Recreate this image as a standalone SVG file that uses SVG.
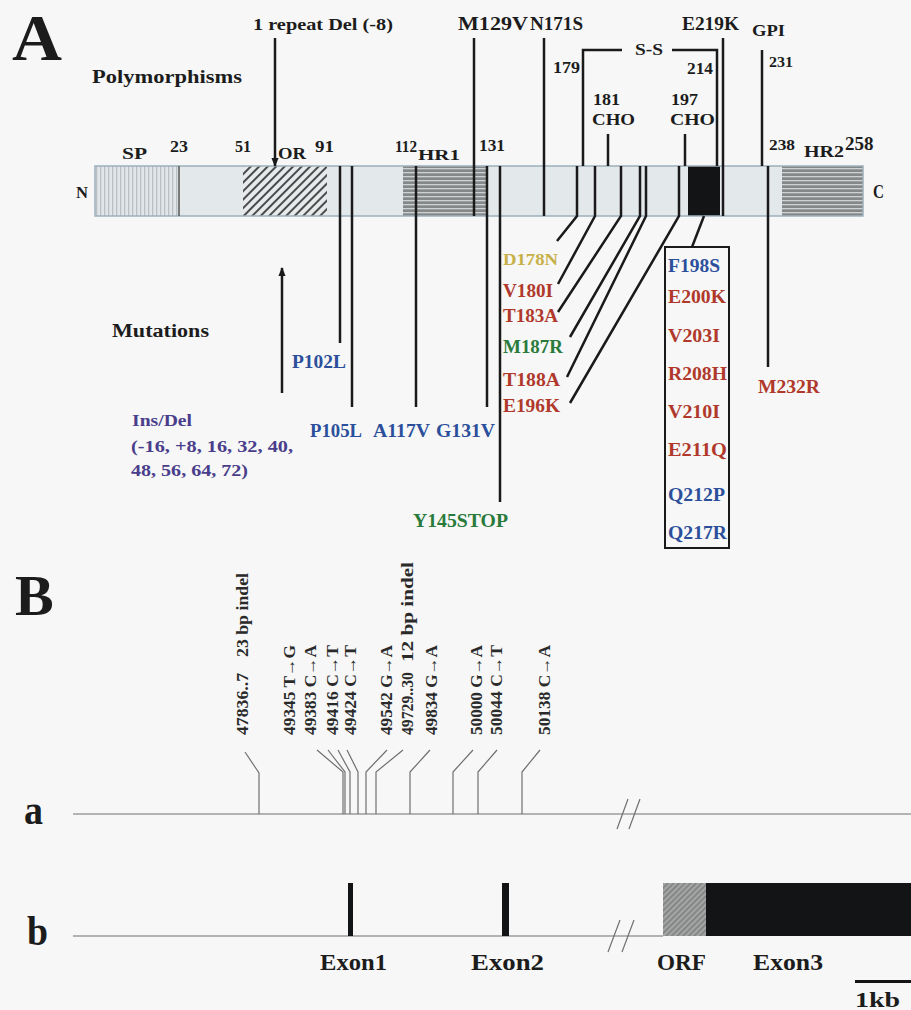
<svg xmlns="http://www.w3.org/2000/svg" width="911" height="1010" viewBox="0 0 911 1010">
<style>
.t{font-family:"Liberation Serif","Times New Roman",serif;font-weight:bold}
.k{fill:#1c1c1c}
.blue{fill:#2c4f9c}
.red{fill:#b0392c}
.green{fill:#2a7a3c}
.yel{fill:#c8b048}
.pur{fill:#4a3e8c}
.rot{fill:#2a2a2a;font-size:16px}
.ln{stroke:#1a1a1a;stroke-width:2.5;fill:none}
.thin{stroke:#707070;stroke-width:1.2;fill:none}
.seg{stroke:none}
</style>
<defs>
<pattern id="vstripe" width="4" height="4" patternUnits="userSpaceOnUse">
<rect width="4" height="4" fill="#e2e6e9"/>
<rect width="1.3" height="4" fill="#b9c0c6"/>
</pattern>
<pattern id="hatch" width="6" height="6" patternUnits="userSpaceOnUse" patternTransform="rotate(45)">
<rect width="6" height="6" fill="#e6eaec"/>
<rect width="2" height="6" fill="#4a4a4a"/>
</pattern>
<pattern id="hstripe" width="4" height="4" patternUnits="userSpaceOnUse">
<rect width="4" height="4" fill="#858888"/>
<rect width="4" height="1.3" fill="#cfd2d4"/>
</pattern>
<pattern id="orf" width="4" height="4" patternUnits="userSpaceOnUse" patternTransform="rotate(45)">
<rect width="4" height="4" fill="#a4a6a5"/>
<rect width="1.5" height="4" fill="#7c7e7d"/>
</pattern>
<marker id="arr" viewBox="0 0 10 10" refX="9" refY="5" markerWidth="9" markerHeight="10" markerUnits="userSpaceOnUse" orient="auto">
<path d="M0,1 L10,5 L0,9 Z" fill="#1a1a1a"/>
</marker>
</defs>
<rect width="911" height="1010" fill="#f6f7f6"/>

<g id="panel-labels" class="t k">
<text x="12" y="60" font-size="66" textLength="50" lengthAdjust="spacingAndGlyphs">A</text>
<text x="15" y="615" font-size="58">B</text>
<text x="24" y="824" font-size="42" textLength="19" lengthAdjust="spacingAndGlyphs">a</text>
<text x="27" y="945" font-size="42" textLength="21" lengthAdjust="spacingAndGlyphs">b</text>
</g>

<g id="prion-bar">
<rect class="seg" x="95" y="166" width="84" height="50" fill="url(#vstripe)"/>
<rect class="seg" x="179" y="166" width="64" height="50" fill="#e3e8eb"/>
<rect class="seg" x="243" y="166" width="84" height="50" fill="url(#hatch)"/>
<rect class="seg" x="327" y="166" width="76" height="50" fill="#e3e8eb"/>
<rect class="seg" x="403" y="166" width="83" height="50" fill="url(#hstripe)"/>
<rect class="seg" x="486" y="166" width="202" height="50" fill="#e3e8eb"/>
<rect class="seg" x="688" y="166" width="32" height="50" fill="#121416"/>
<rect class="seg" x="720" y="166" width="62" height="50" fill="#e3e8eb"/>
<rect class="seg" x="782" y="166" width="81" height="50" fill="url(#hstripe)"/>
<rect x="95" y="166" width="768" height="50" fill="none" stroke="#9db0bd" stroke-width="1.5"/>
<line x1="179" y1="166" x2="179" y2="216" stroke="#555" stroke-width="1.5"/>
</g>

<g id="bar-labels" class="t k">
<text x="76" y="198" font-size="17" textLength="12" lengthAdjust="spacingAndGlyphs">N</text>
<text x="873" y="198" font-size="18" textLength="11" lengthAdjust="spacingAndGlyphs">C</text>
<text x="122" y="159" font-size="17" textLength="25" lengthAdjust="spacingAndGlyphs">SP</text>
<text x="170" y="152" font-size="16" textLength="18" lengthAdjust="spacingAndGlyphs">23</text>
<text x="235" y="152" font-size="16" textLength="16" lengthAdjust="spacingAndGlyphs">51</text>
<text x="278" y="159" font-size="17" textLength="28" lengthAdjust="spacingAndGlyphs">OR</text>
<text x="315" y="152" font-size="16" textLength="19" lengthAdjust="spacingAndGlyphs">91</text>
<text x="395" y="152" font-size="16" textLength="22" lengthAdjust="spacingAndGlyphs">112</text>
<text x="418" y="160" font-size="15" textLength="42" lengthAdjust="spacingAndGlyphs">HR1</text>
<text x="479" y="151" font-size="16" textLength="26" lengthAdjust="spacingAndGlyphs">131</text>
<text x="769" y="150" font-size="15" textLength="26" lengthAdjust="spacingAndGlyphs">238</text>
<text x="804" y="157" font-size="16" textLength="40" lengthAdjust="spacingAndGlyphs">HR2</text>
<text x="845" y="150" font-size="19">258</text>
</g>

<g id="polymorphism-labels" class="t k">
<text x="92" y="83" font-size="19" textLength="150" lengthAdjust="spacingAndGlyphs">Polymorphisms</text>
<text x="253" y="30" font-size="16" textLength="140" lengthAdjust="spacingAndGlyphs">1 repeat Del (-8)</text>
<text x="458" y="30" font-size="18" textLength="70" lengthAdjust="spacingAndGlyphs">M129V</text>
<text x="530" y="30" font-size="18" textLength="53" lengthAdjust="spacingAndGlyphs">N171S</text>
<text x="682" y="30" font-size="18" textLength="57" lengthAdjust="spacingAndGlyphs">E219K</text>
<text x="752" y="36" font-size="17" textLength="33" lengthAdjust="spacingAndGlyphs">GPI</text>
<text x="635" y="55" font-size="16" textLength="28" lengthAdjust="spacingAndGlyphs">S-S</text>
<text x="553" y="73" font-size="17" textLength="27" lengthAdjust="spacingAndGlyphs">179</text>
<text x="687" y="74" font-size="17" textLength="26" lengthAdjust="spacingAndGlyphs">214</text>
<text x="769" y="67" font-size="15" textLength="24" lengthAdjust="spacingAndGlyphs">231</text>
<text x="593" y="105" font-size="16" textLength="27" lengthAdjust="spacingAndGlyphs">181</text>
<text x="592" y="125" font-size="17" textLength="43" lengthAdjust="spacingAndGlyphs">CHO</text>
<text x="671" y="105" font-size="16" textLength="27" lengthAdjust="spacingAndGlyphs">197</text>
<text x="670" y="125" font-size="17" textLength="45" lengthAdjust="spacingAndGlyphs">CHO</text>
</g>

<g id="mutation-labels" class="t">
<text class="k" x="112" y="337" font-size="18" textLength="97" lengthAdjust="spacingAndGlyphs">Mutations</text>
<text class="blue" x="292" y="368" font-size="18" textLength="54" lengthAdjust="spacingAndGlyphs">P102L</text>
<text class="blue" x="310" y="437" font-size="18" textLength="52" lengthAdjust="spacingAndGlyphs">P105L</text>
<text class="blue" x="373" y="437" font-size="18" textLength="57" lengthAdjust="spacingAndGlyphs">A117V</text>
<text class="blue" x="436" y="437" font-size="18" textLength="59" lengthAdjust="spacingAndGlyphs">G131V</text>
<text class="pur" x="132" y="426" font-size="16" textLength="60" lengthAdjust="spacingAndGlyphs">Ins/Del</text>
<text class="pur" x="131" y="452" font-size="16" textLength="162" lengthAdjust="spacingAndGlyphs">(-16, +8, 16, 32, 40,</text>
<text class="pur" x="131" y="476" font-size="16" textLength="117" lengthAdjust="spacingAndGlyphs">48, 56, 64, 72)</text>
<text class="green" x="413" y="527" font-size="18" textLength="95" lengthAdjust="spacingAndGlyphs">Y145STOP</text>
<text class="yel" x="503" y="265" font-size="17" textLength="55" lengthAdjust="spacingAndGlyphs">D178N</text>
<text class="red" x="503" y="297" font-size="18" textLength="50" lengthAdjust="spacingAndGlyphs">V180I</text>
<text class="red" x="503" y="322" font-size="18" textLength="55" lengthAdjust="spacingAndGlyphs">T183A</text>
<text class="green" x="503" y="353" font-size="18" textLength="60" lengthAdjust="spacingAndGlyphs">M187R</text>
<text class="red" x="503" y="386" font-size="18" textLength="57" lengthAdjust="spacingAndGlyphs">T188A</text>
<text class="red" x="503" y="412" font-size="18" textLength="57" lengthAdjust="spacingAndGlyphs">E196K</text>
<text class="red" x="758" y="393" font-size="18" textLength="62" lengthAdjust="spacingAndGlyphs">M232R</text>
</g>

<g id="mutation-box" class="t">
<rect x="665" y="247" width="64" height="301" fill="none" stroke="#1a1a1a" stroke-width="2"/>
<text class="blue" x="668" y="272" font-size="18" textLength="52" lengthAdjust="spacingAndGlyphs">F198S</text>
<text class="red" x="668" y="303" font-size="18" textLength="58" lengthAdjust="spacingAndGlyphs">E200K</text>
<text class="red" x="668" y="342" font-size="18" textLength="52" lengthAdjust="spacingAndGlyphs">V203I</text>
<text class="red" x="668" y="380" font-size="18" textLength="59" lengthAdjust="spacingAndGlyphs">R208H</text>
<text class="red" x="668" y="418" font-size="18" textLength="52" lengthAdjust="spacingAndGlyphs">V210I</text>
<text class="red" x="668" y="456" font-size="18" textLength="59" lengthAdjust="spacingAndGlyphs">E211Q</text>
<text class="blue" x="668" y="501" font-size="18" textLength="57" lengthAdjust="spacingAndGlyphs">Q212P</text>
<text class="blue" x="668" y="539" font-size="18" textLength="59" lengthAdjust="spacingAndGlyphs">Q217R</text>
</g>

<g id="connectors">
<line class="ln" x1="275" y1="38" x2="275" y2="166" marker-end="url(#arr)"/>
<line class="ln" x1="474" y1="38" x2="474" y2="216"/>
<line class="ln" x1="544" y1="38" x2="544" y2="216"/>
<path class="ln" d="M583,166 V50 H622 M672,50 H717 V166"/>
<line class="ln" x1="608" y1="134" x2="608" y2="166"/>
<line class="ln" x1="685" y1="134" x2="685" y2="166"/>
<line class="ln" x1="723" y1="38" x2="723" y2="216"/>
<line class="ln" x1="762" y1="50" x2="762" y2="166"/>
<line class="ln" x1="282" y1="393" x2="282" y2="268" marker-end="url(#arr)"/>
<line class="ln" x1="340" y1="166" x2="340" y2="343"/>
<line class="ln" x1="352" y1="166" x2="352" y2="407"/>
<line class="ln" x1="416" y1="166" x2="416" y2="407"/>
<line class="ln" x1="487" y1="166" x2="487" y2="407"/>
<line class="ln" x1="500" y1="166" x2="500" y2="502"/>
<path class="ln" d="M577,166 V216 L557,241"/>
<path class="ln" d="M595,166 V216 L558,284"/>
<path class="ln" d="M621,166 V216 L558,312"/>
<path class="ln" d="M640,166 V216 L570,337"/>
<path class="ln" d="M646,166 V216 L567,377"/>
<path class="ln" d="M679,166 V216 L570,403"/>
<line class="ln" x1="704" y1="216" x2="692" y2="247"/>
<line class="ln" x1="768" y1="166" x2="768" y2="367"/>

<path class="thin" d="M73,814 H911"/>
<path class="thin" d="M73,936 H663"/>
<path class="thin" d="M617,829 L628,799 M629,829 L640,799"/>
<path class="thin" d="M608,952 L620,920 M622,952 L634,920"/>
<polyline class="thin" points="245,752 259,773 259,814"/>
<polyline class="thin" points="317,750 343,772 343,814"/>
<polyline class="thin" points="328,750 345,772 345,814"/>
<polyline class="thin" points="338,750 350,772 350,814"/>
<polyline class="thin" points="347,750 358,772 358,814"/>
<polyline class="thin" points="387,750 366,772 366,814"/>
<polyline class="thin" points="403,750 376,772 376,814"/>
<polyline class="thin" points="430,750 410,772 410,814"/>
<polyline class="thin" points="473,750 453,772 453,814"/>
<polyline class="thin" points="497,750 478,772 478,814"/>
<polyline class="thin" points="540,750 522,772 522,814"/>
</g>

<g id="snp-labels" class="t rot">
<text transform="translate(248,735) rotate(-90)" textLength="62" lengthAdjust="spacingAndGlyphs">47836..7</text>
<text transform="translate(248,657) rotate(-90)" textLength="84" lengthAdjust="spacingAndGlyphs">23 bp indel</text>
<text transform="translate(295,735) rotate(-90)" textLength="90" lengthAdjust="spacingAndGlyphs">49345 T→G</text>
<text transform="translate(316,735) rotate(-90)" textLength="90" lengthAdjust="spacingAndGlyphs">49383 C→A</text>
<text transform="translate(338,735) rotate(-90)" textLength="90" lengthAdjust="spacingAndGlyphs">49416 C→T</text>
<text transform="translate(356,735) rotate(-90)" textLength="90" lengthAdjust="spacingAndGlyphs">49424 C→T</text>
<text transform="translate(392,735) rotate(-90)" textLength="90" lengthAdjust="spacingAndGlyphs">49542 G→A</text>
<text transform="translate(413,735) rotate(-90)" textLength="63" lengthAdjust="spacingAndGlyphs">49729..30</text>
<text transform="translate(413,662) rotate(-90)" textLength="100" lengthAdjust="spacingAndGlyphs">12 bp indel</text>
<text transform="translate(437,735) rotate(-90)" textLength="90" lengthAdjust="spacingAndGlyphs">49834 G→A</text>
<text transform="translate(482,735) rotate(-90)" textLength="90" lengthAdjust="spacingAndGlyphs">50000 G→A</text>
<text transform="translate(502,735) rotate(-90)" textLength="90" lengthAdjust="spacingAndGlyphs">50044 C→T</text>
<text transform="translate(550,735) rotate(-90)" textLength="90" lengthAdjust="spacingAndGlyphs">50138 C→A</text>
</g>

<g id="gene-structure">
<rect x="348" y="883" width="5" height="53" fill="#121416"/>
<rect x="502" y="883" width="7" height="53" fill="#121416"/>
<rect x="663" y="883" width="43" height="53" fill="url(#orf)"/>
<rect x="706" y="883" width="205" height="53" fill="#121416"/>
<rect x="855" y="980" width="56" height="3" fill="#121416"/>
</g>

<g id="gene-labels" class="t k">
<text x="320" y="970" font-size="23" textLength="67" lengthAdjust="spacingAndGlyphs">Exon1</text>
<text x="471" y="970" font-size="23" textLength="73" lengthAdjust="spacingAndGlyphs">Exon2</text>
<text x="657" y="970" font-size="23" textLength="49" lengthAdjust="spacingAndGlyphs">ORF</text>
<text x="753" y="970" font-size="23" textLength="70" lengthAdjust="spacingAndGlyphs">Exon3</text>
<text x="855" y="1007" font-size="22" textLength="45" lengthAdjust="spacingAndGlyphs">1kb</text>
</g>
</svg>
